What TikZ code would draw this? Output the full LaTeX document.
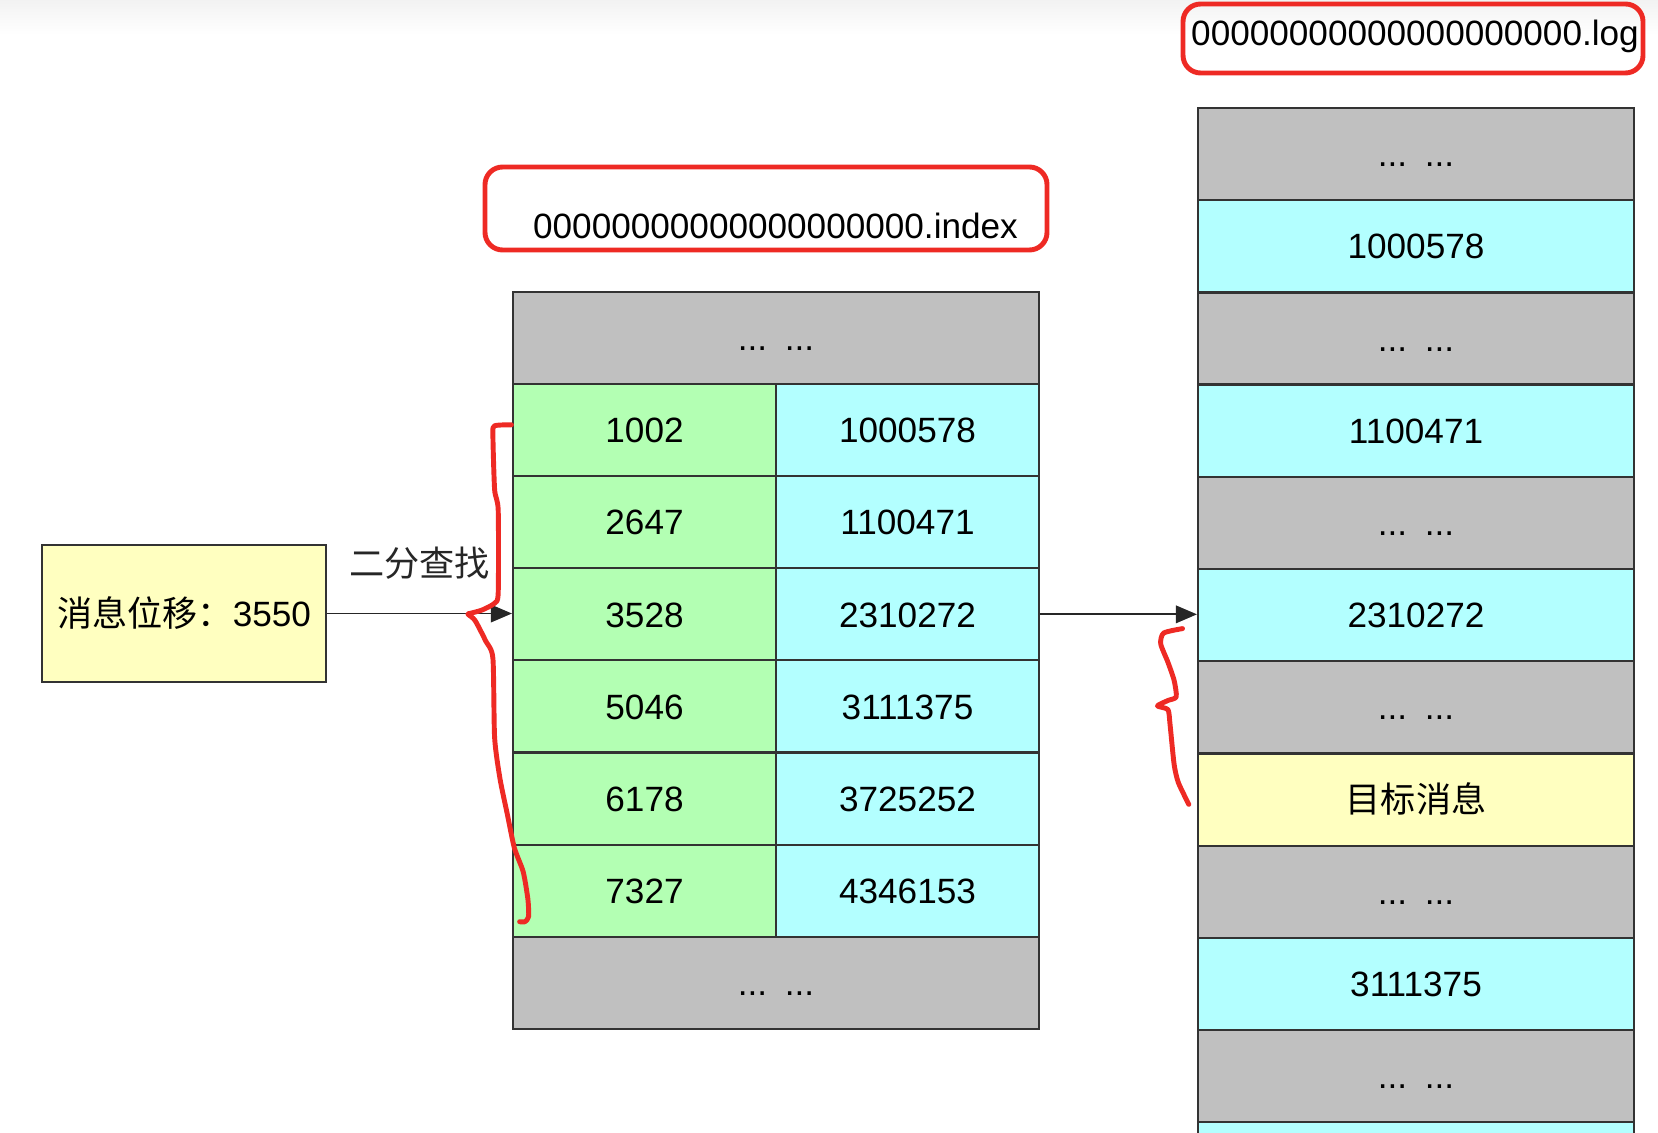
\documentclass[tikz,border=0pt]{standalone}
\usepackage{fontspec}
\setmainfont{Liberation Sans}
\newfontfamily\cjk{Noto Sans CJK SC}
\usepackage{xcolor}
\usepackage{tikz}
\usetikzlibrary{arrows.meta}

\definecolor{cellgray}{HTML}{C0C0C0}
\definecolor{cellgreen}{HTML}{B3FFB3}
\definecolor{cellcyan}{HTML}{B3FFFF}
\definecolor{cellyellow}{HTML}{FFFFC0}
\definecolor{markred}{HTML}{EE2A24}

\begin{document}
\begin{tikzpicture}[
  cell/.style={
    draw=black!80, line width=0.6pt, inner sep=0pt,
    minimum height=0.921cm, text height=7.2pt, text depth=0pt
  },
  idxcell/.style={cell, minimum width=2.63cm},
  idxwide/.style={cell, fill=cellgray, minimum width=5.26cm},
  logcell/.style={cell, minimum width=4.36cm},
  fname/.style={inner sep=0pt, text height=7.2pt, text depth=0pt},
  redmark/.style={draw=markred, line width=1.4pt, rounded corners=5pt},
  scrawl/.style={draw=markred, line width=1.4pt, line cap=round, line join=round},
  arr/.style={-{Triangle[length=6pt,width=5pt]}, line width=0.5pt, black!85},
]
\useasboundingbox (0,0) rectangle (16.58,-11.32);
\shade[top color=black!5, bottom color=white] (0,0) rectangle (16.58,-0.35);

%% ── file names ───────────────────────────────────────────────────────────────
\node[fname] (log_name) at (14.15,-0.325) {00000000000000000000.log};
\node[fname] (idx_name) at (7.755,-2.26)  {00000000000000000000.index};
\draw[redmark] (11.83,-0.04) rectangle (16.43,-0.73);
\draw[redmark] (4.85,-1.67)  rectangle (10.47,-2.50);

%% ── offset to look up ────────────────────────────────────────────────────────
\node[cell, fill=cellyellow, minimum width=2.84cm, minimum height=1.37cm]
  (msg) at (1.84,-6.135) {{\cjk 消息位移：}3550};

%% ── index file ───────────────────────────────────────────────────────────────
\node[idxwide] (idx_top) at (7.76,-3.3805) {...\enspace...};
\node[idxcell, fill=cellgreen] (off1) at (6.445,-4.3015) {1002};
\node[idxcell, fill=cellcyan]  (pos1) at (9.075,-4.3015) {1000578};
\node[idxcell, fill=cellgreen] (off2) at (6.445,-5.2225) {2647};
\node[idxcell, fill=cellcyan]  (pos2) at (9.075,-5.2225) {1100471};
\node[idxcell, fill=cellgreen] (off3) at (6.445,-6.1435) {3528};
\node[idxcell, fill=cellcyan]  (pos3) at (9.075,-6.1435) {2310272};
\node[idxcell, fill=cellgreen] (off4) at (6.445,-7.0645) {5046};
\node[idxcell, fill=cellcyan]  (pos4) at (9.075,-7.0645) {3111375};
\node[idxcell, fill=cellgreen] (off5) at (6.445,-7.9855) {6178};
\node[idxcell, fill=cellcyan]  (pos5) at (9.075,-7.9855) {3725252};
\node[idxcell, fill=cellgreen] (off6) at (6.445,-8.9065) {7327};
\node[idxcell, fill=cellcyan]  (pos6) at (9.075,-8.9065) {4346153};
\node[idxwide] (idx_bot) at (7.76,-9.8275) {...\enspace...};

%% ── log file ─────────────────────────────────────────────────────────────────
\node[logcell, fill=cellgray]   (log0)  at (14.16,-1.541)  {...\enspace...};
\node[logcell, fill=cellcyan]   (log1)  at (14.16,-2.463)  {1000578};
\node[logcell, fill=cellgray]   (log2)  at (14.16,-3.385)  {...\enspace...};
\node[logcell, fill=cellcyan]   (log3)  at (14.16,-4.307)  {1100471};
\node[logcell, fill=cellgray]   (log4)  at (14.16,-5.229)  {...\enspace...};
\node[logcell, fill=cellcyan]   (log5)  at (14.16,-6.151)  {2310272};
\node[logcell, fill=cellgray]   (log6)  at (14.16,-7.073)  {...\enspace...};
\node[logcell, fill=cellyellow] (log7)  at (14.16,-7.995)  {\cjk 目标消息};
\node[logcell, fill=cellgray]   (log8)  at (14.16,-8.917)  {...\enspace...};
\node[logcell, fill=cellcyan]   (log9)  at (14.16,-9.839)  {3111375};
\node[logcell, fill=cellgray]   (log10) at (14.16,-10.761) {...\enspace...};
\node[logcell, fill=cellcyan]   (log11) at (14.16,-11.683) {};

%% ── edges ────────────────────────────────────────────────────────────────────
\draw[arr] (msg.east) -- (msg.east -| off3.west)
  node[midway, yshift=0.5cm, font=\cjk] {二分查找};
\draw[arr] (pos3.east) -- (pos3.east -| log5.west);

%% ── hand-drawn braces ────────────────────────────────────────────────────────
\draw[scrawl] plot[smooth, tension=0.4] coordinates {
  (5.114,-4.248) (4.946,-4.258) (4.929,-4.344) (4.946,-4.895) (4.982,-5.102)
  (4.982,-5.928) (4.946,-6.032) (4.821,-6.100) (4.696,-6.135) (4.679,-6.142)
  (4.750,-6.204) (4.857,-6.410) (4.929,-6.583) (4.946,-7.375) (5.000,-7.788)
  (5.071,-8.132) (5.143,-8.477) (5.232,-8.718) (5.279,-8.993) (5.286,-9.165)
  (5.250,-9.217) (5.196,-9.217)};
\draw[scrawl] plot[smooth, tension=0.4] coordinates {
  (11.825,-6.286) (11.637,-6.330) (11.607,-6.439) (11.679,-6.622) (11.741,-6.804)
  (11.762,-6.968) (11.679,-7.005) (11.574,-7.059) (11.679,-7.096) (11.700,-7.242)
  (11.741,-7.643) (11.783,-7.825) (11.888,-8.044)};

\end{tikzpicture}
\end{document}
